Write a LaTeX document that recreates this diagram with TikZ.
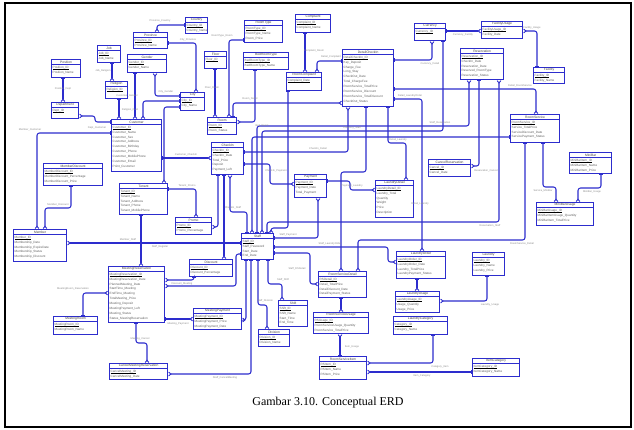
\documentclass[tikz,border=0pt]{standalone}
\usepackage{fontspec}
\setmainfont{Liberation Sans}
\newfontfamily\capfont{Liberation Serif}
\usetikzlibrary{arrows.meta,calc}
\definecolor{erd}{RGB}{45,45,205}
\tikzset{
  entbox/.style={draw=erd, line width=1.2pt, fill=white, inner sep=0pt, rectangle},
  enttitle/.style={inner sep=0pt, font=\fontsize{3.3}{3.8}\selectfont, text=black!75},
  entsep/.style={draw=erd, line width=0.8pt},
  attr/.style={anchor=north west, inner sep=0pt, font=\fontsize{3.1}{3.6}\selectfont, text=black!62, text height=2.4pt, text depth=0.6pt},
  keyline/.style={draw=black, line width=0.9pt},
  rel/.style={draw=erd, line width=1.05pt, rounded corners=2.5pt,
    arrows={Bar[width=3.8pt,line width=0.9pt]-Straight Barb[reversed,length=2.3pt,width=3.8pt,line width=0.9pt]}},
  relthick/.style={rel, line width=1.9pt},
  lbl/.style={inner sep=0pt, font=\fontsize{2.6}{3}\selectfont, text=black!45},
}
\newcommand{\ent}[7]{%
  \node[entbox, minimum width=#4pt, minimum height=#5pt, anchor=north west] (#1) at (#2,#3) {};
  \node[enttitle] (#1-t) at ([yshift=-2.9pt]#1.north) {#6};
  \draw[entsep] ([yshift=-5.6pt]#1.north west) -- ([yshift=-5.6pt]#1.north east);
  \foreach \r [count=\i] in {#7} {
    \node[attr] (#1-\i) at ([xshift=1.5pt,yshift={-6.6pt-(\i-1)*4.9pt}]#1.north west) {\r};
  }
  \draw[keyline] (#1-1.south west) -- (#1-1.south east);
}
\newcommand{\lbl}[4]{\node[lbl] (#1) at (#2,#3) {#4};}

\begin{document}
\begin{tikzpicture}[x=1pt,y=-1pt]
\useasboundingbox (0,0) rectangle (634,429);
\fill[white] (0,0) rectangle (634,429);

% ---------------- entities ----------------
\ent{country}{185}{17}{22}{16}{Country}{Country\_ID,Country\_Name}
\ent{province}{133}{32}{34}{16}{Province}{Province\_ID,Province\_Name}
\ent{job}{97}{45}{23}{17}{Job}{Job\_ID,Job\_Name}
\ent{gender}{127}{54}{39}{18}{Gender}{Gender\_ID,Gender\_Name}
\ent{position}{51}{59}{29}{18}{Position}{Position\_ID,Position\_Name}
\ent{religion}{105}{81}{22}{17}{Religion}{Religion\_ID}
\ent{department}{51}{102}{27}{16}{Department}{Dept\_ID}
\ent{city}{180}{92}{24}{18}{City}{City\_ID,City\_Name}
\ent{customer}{111}{119}{50}{52}{Customer}{Customer\_ID,Customer\_Name,Customer\_Sex,Customer\_Address,Customer\_Birthday,Customer\_Phone,Customer\_MobilePhone,Customer\_Email,Point\_Customer}
\ent{roomtype}{244}{20}{38}{22}{RoomType}{RoomType\_ID,RoomType\_Name,Room\_Price}
\ent{complaint}{295}{14}{35}{18}{Complaint}{Complaint\_ID,Complaint\_Name}
\ent{floor}{204}{51}{22}{17}{Floor}{Floor\_ID}
\ent{bedroomtype}{243}{52}{45}{17}{BedRoomType}{BedRoomType\_ID,BedRoomType\_Name}
\ent{roomcomplaint}{286}{72}{35}{18}{RoomComplaint}{Complaint\_Date}
\ent{detailcheckin}{342}{49}{51}{57}{DetailCheckIn}{DetailCheckIn\_ID,Key\_Deposit,Charge\_Fee,Long\_Stay,CheckOut\_Date,Total\_ChargeFee,RoomService\_TotalPrice,RoomService\_Discount,RoomService\_TotalDiscount,CheckOut\_Status}
\ent{room}{207}{117}{29}{17}{Room}{Room\_ID,Room\_Status}
\ent{checkin}{211}{142}{32}{32}{CheckIn}{CheckIn\_ID,CheckIn\_Date,Total\_Price,Deposit,Payment\_Left}
\ent{currency}{414}{23}{31}{17}{Currency}{Currency\_ID}
\ent{facilityusage}{481}{21}{41}{17}{FacilityUsage}{FacilityUsage\_ID,Facility\_Date}
\ent{reservation}{460}{48}{43}{31}{Reservation}{Reservation\_ID,CheckIn\_Date,Reservation\_Date,Reserved\_RoomType,Reservation\_Status}
\ent{facility}{533}{67}{31}{16}{Facility}{Facility\_ID,Facility\_Name}
\ent{roomservice}{510}{114}{49}{28}{RoomService}{RoomService\_ID,Service\_TotalPrice,ServiceDiscount\_Date,ServicePayment\_Status}
\ent{memberdiscount}{43}{163}{59}{22}{MemberDiscount}{MemberDiscount\_ID,MemberDiscount\_Percentage,MemberDiscount\_Price}
\ent{tenant}{119}{183}{48}{31}{Tenant}{Tenant\_ID,Tenant\_Name,Tenant\_Address,Tenant\_Phone,Tenant\_MobilePhone}
\ent{member}{13}{229}{53}{32}{Member}{Member\_ID,Membership\_Date,Membership\_ExpireDate,Membership\_Status,Membership\_Discount}
\ent{promo}{175}{217}{36}{17}{Promo}{Promo\_ID,Promo\_Percentage}
\ent{discount}{189}{259}{43}{17}{Discount}{Discount\_ID,Discount\_Percentage}
\ent{meetingres}{108}{266}{56}{56}{MeetingReservation}{MeetingReservation\_ID,MeetingReservation\_Date,PlannedMeeting\_Date,StartTime\_Meeting,EndTime\_Meeting,TotalMeeting\_Price,Meeting\_Deposit,MeetingPayment\_Left,Meeting\_Status,Status\_MeetingReservation}
\ent{payment}{294}{174}{32}{23}{Payment}{Payment\_ID,Payment\_Date,Total\_Payment}
\ent{laundrydetail}{375}{180}{38}{37}{LaundryDetail}{LaundryDetail\_ID,Laundry\_Total,Quantity,Weight,Price,Description}
\ent{staff}{241}{233}{32}{26}{Staff}{Staff\_ID,Staff\_Password,Start\_Date,End\_Date}
\ent{rsdetail}{318}{271}{48}{26}{RoomServiceDetail}{RSDetail\_ID,Detail\_TotalPrice,DetailDiscount\_Date,DetailPayment\_Status}
\ent{laundryorder}{396}{251}{49}{27}{LaundryOrder}{LaundryOrder\_ID,LaundryOrder\_Date,Laundry\_TotalPrice,LaundryPayment\_Status}
\ent{cancelres}{428}{159}{42}{17}{CancelReservation}{Cancel\_ID,Cancel\_Date}
\ent{minibar}{569}{152}{42}{21}{MiniBar}{MiniBarItem\_ID,MiniBarItem\_Name,MiniBarItem\_Price}
\ent{minibarusage}{536}{202}{57}{23}{MiniBarUsage}{MiniBarUsage\_ID,MiniBarItemUsage\_Quantity,MiniBarItem\_TotalPrice}
\ent{laundry}{472}{252}{32}{23}{Laundry}{Laundry\_ID,Laundry\_Name,Laundry\_Price}
\ent{meetingroom}{53}{316}{44}{18}{MeetingRoom}{MeetingRoom\_ID,MeetingRoom\_Name}
\ent{meetingpayment}{193}{308}{48}{21}{MeetingPayment}{MeetingPayment\_ID,MeetingPayment\_Price,MeetingPayment\_Date}
\ent{cancelmeeting}{109}{363}{58}{16}{CancelMeetingReservation}{CancelMeeting\_ID,CancelMeeting\_Date}
\ent{division}{258}{329}{31}{17}{Division}{Division\_ID,Division\_Name}
\ent{shift}{278}{300}{29}{26}{Shift}{Shift\_ID,Shift\_Name,Start\_Time,End\_Time}
\ent{rsusage}{313}{312}{55}{21}{RoomServiceUsage}{RSUsage\_ID,RoomServiceUsage\_Quantity,RoomService\_TotalPrice}
\ent{rsitem}{319}{356}{47}{23}{RoomServiceItem}{RSItem\_ID,RSItem\_Name,RSItem\_Price}
\ent{laundryusage}{395}{291}{44}{21}{LaundryUsage}{LaundryUsage\_ID,Usage\_Quantity,Usage\_Price}
\ent{laundrycat}{393}{316}{54}{18}{LaundryCategory}{Category\_ID,Category\_Name}
\ent{itemcat}{472}{358}{47}{18}{ItemCategory}{ItemCategory\_ID,ItemCategory\_Name}

% ---------------- connectors ----------------
\draw[rel] (country.west |- 0,25) -| (province.north -| 157,0);
\draw[rel] (province.east |- 0,43) -| (city.north -| 196,0);
\draw[rel] (gender.south -| 135,0) -- (customer.north -| 135,0);
\draw[rel] (city.west |- 0,96) -| (gender.south -| 155,0);
\draw[rel] (city.west |- 0,101) -| (customer.north -| 143,0);
\draw[rel] (job.south -| 112,0) -- (religion.north -| 112,0);
\draw[rel] (religion.south -| 119,0) -- (customer.north -| 119,0);
\draw[rel] (position.south -| 63,0) -- (department.north -| 63,0);
\draw[rel] (customer.west |- 0,122) -- (95,122) |- (department.east |- 0,116);
\draw[rel] (customer.west |- 0,133) -| (member.north -| 37,0);
\draw[rel] (memberdiscount.south -| 71,0) |- (45,208) -- (member.north -| 45,0);
\draw[rel] (city.west |- 0,107) -| (tenant.north -| 164,0);
\draw[rel] (customer.east |- 0,158) -- (checkin.west |- 0,158);
\draw[rel] (tenant.south -| 141,0) -- (meetingres.north -| 141,0);
\draw[rel] (staff.west |- 0,243) -- (member.east |- 0,243);
\draw[rel] (tenant.east |- 0,189) -| (promo.north -| 196,0);
\draw[rel] (checkin.south -| 218,0) |- (promo.east |- 0,227);
\draw[rel] (checkin.south -| 224,0) -- (discount.north -| 224,0);
\draw[rel] (staff.north -| 247,0) |- (230,212) -- (checkin.south -| 230,0);
\draw[rel] (staff.east |- 0,238) -| (payment.south -| 318,0);
\draw[rel] (checkin.east |- 0,164) -- (270,164) |- (payment.west |- 0,184);
\draw[rel] (checkin.east |- 0,152) -| (detailcheckin.south -| 348,0);
\draw[rel] (detailcheckin.south -| 366,0) |- (341,172) -- (rsdetail.north -| 341,0);
\draw[rel] (detailcheckin.south -| 388,0) |- (406,143) -- (laundrydetail.north -| 406,0);
\draw[rel] (payment.east |- 0,181) -- (350,181) |- (laundrydetail.west |- 0,190);
\draw[rel] (reservation.south -| 479,0) |- (cancelres.east |- 0,166);
\draw[rel] (staff.north -| 267,0) |- (499,222) -- (reservation.south -| 499,0);
\draw[rel] (staff.north -| 257,0) |- (469,126) -- (reservation.south -| 469,0);
\draw[rel] (detailcheckin.east |- 0,60) -| (currency.south -| 432,0);
\draw[rel] (currency.south -| 443,0) |- (262,131) -- (staff.north -| 262,0);
\draw[rel] (roomservice.west |- 0,137) -| (staff.north -| 252,0);
\draw[rel] (currency.east |- 0,31) -- (facilityusage.west |- 0,31);
\draw[rel] (facility.north -| 537,0) |- (facilityusage.east |- 0,31);
\draw[rel] (detailcheckin.east |- 0,89) -| (roomservice.north -| 536,0);
\draw[rel] (detailcheckin.east |- 0,99) -| (laundryorder.north -| 422,0);
\draw[rel] (roomservice.south -| 525,0) |- (358,240) -- (rsdetail.north -| 358,0);
\draw[rel] (roomservice.south -| 543,0) |- (556,187) -- (minibarusage.north -| 556,0);
\draw[rel] (minibar.south -| 601,0) |- (578,188) -- (minibarusage.north -| 578,0);
\draw[relthick] (laundryorder.south -| 417,0) -- (laundryusage.north -| 417,0);
\draw[rel] (laundry.south -| 487,0) |- (laundryusage.east |- 0,301);
\draw[rel] (laundrycat.south -| 433,0) |- (rsitem.east |- 0,363);
\draw[rel] (itemcat.west |- 0,372) -- (rsitem.east |- 0,372);
\draw[relthick] (rsdetail.south -| 341,0) -- (rsusage.north -| 341,0);
\draw[rel] (rsitem.north -| 340,0) -- (rsusage.south -| 340,0);
\draw[rel] (staff.east |- 0,247) -- (388,247) |- (laundryorder.west |- 0,262);
\draw[rel] (staff.east |- 0,253) -- (310,253) |- (rsdetail.west |- 0,284);
\draw[rel] (staff.south -| 268,0) |- (282,284) -- (shift.north -| 282,0);
\draw[rel] (staff.south -| 258,0) |- (267,305) -- (division.north -| 267,0);
\draw[rel] (staff.south -| 251,0) |- (cancelmeeting.east |- 0,374);
\draw[rel] (staff.south -| 246,0) |- (meetingpayment.east |- 0,320);
\draw[rel] (meetingres.east |- 0,319) -- (meetingpayment.west |- 0,319);
\draw[rel] (meetingroom.north -| 83,0) |- (meetingres.west |- 0,293);
\draw[rel] (meetingres.south -| 136,0) |- (147,343) -- (cancelmeeting.north -| 147,0);
\draw[rel] (discount.south -| 194,0) |- (meetingres.east |- 0,280);
\draw[rel] (staff.west |- 0,254) -- (236,254) |- (meetingres.east |- 0,286);
\draw[rel] (floor.south -| 215,0) -- (room.north -| 215,0);
\draw[rel] (roomtype.west |- 0,40) -| (room.north -| 229,0);
\draw[rel] (bedroomtype.south -| 255,0) |- (room.east |- 0,122);
\draw[rel] (complaint.south -| 305,0) -- (roomcomplaint.north -| 305,0);
\draw[rel] (detailcheckin.west |- 0,61) -| (roomcomplaint.north -| 317,0);
\draw[rel] (room.north -| 233,0) |- (detailcheckin.west |- 0,103);
\draw[rel] (roomcomplaint.south -| 288,0) |- (271,228) -- (staff.north -| 271,0);

% ---------------- relationship labels ----------------
\lbl{l1}{160}{21}{Province\_Country}
\lbl{l2}{188}{40}{City\_Province}
\lbl{l3}{127}{96}{Customer\_Gender}
\lbl{l4}{166}{92}{City\_Gender}
\lbl{l5}{103}{71}{Job\_Religion}
\lbl{l6}{130}{110}{Religion\_Cust}
\lbl{l7}{63}{89}{Position\_Dept}
\lbl{l8}{97}{128}{Dept\_Customer}
\lbl{l9}{30}{130}{Member\_Customer}
\lbl{l10}{58}{205}{Member\_Discount}
\lbl{l11}{186}{155}{Customer\_CheckIn}
\lbl{l12}{187}{186}{Tenant\_Promo}
\lbl{l13}{128}{240}{Member\_Staff}
\lbl{l14}{160}{247}{Staff\_Register}
\lbl{l15}{233}{208}{CheckIn\_Staff}
\lbl{l16}{276}{171}{CheckIn\_Payment}
\lbl{l17}{288}{235}{Staff\_Payment}
\lbl{l18}{318}{149}{CheckIn\_Detail}
\lbl{l19}{352}{186}{Payment\_Laundry}
\lbl{l20}{398}{140}{Detail\_Laundry}
\lbl{l21}{486}{171}{Reservation\_Cancel}
\lbl{l22}{490}{226}{Reservation\_Staff}
\lbl{l23}{440}{123}{Staff\_Reservation}
\lbl{l24}{430}{64}{Currency\_Detail}
\lbl{l25}{352}{128}{Currency\_Staff}
\lbl{l26}{463}{35}{Currency\_Facility}
\lbl{l27}{532}{28}{Facility\_Usage}
\lbl{l28}{520}{86}{Detail\_RoomService}
\lbl{l29}{410}{96}{Detail\_LaundryOrder}
\lbl{l30}{522}{244}{RoomService\_Detail}
\lbl{l31}{543}{191}{Service\_MiniBar}
\lbl{l32}{592}{192}{MiniBar\_Usage}
\lbl{l33}{490}{305}{Laundry\_Usage}
\lbl{l34}{440}{367}{Category\_Item}
\lbl{l35}{422}{376}{Item\_Category}
\lbl{l36}{352}{347}{Item\_Usage}
\lbl{l37}{73}{289}{MeetingRoom\_Reservation}
\lbl{l38}{140}{339}{Meeting\_Cancel}
\lbl{l39}{178}{324}{Meeting\_Payment}
\lbl{l40}{182}{284}{Discount\_Meeting}
\lbl{l41}{225}{378}{Staff\_CancelMeeting}
\lbl{l42}{265}{301}{Staff\_Division}
\lbl{l43}{283}{280}{Staff\_Shift}
\lbl{l44}{297}{269}{Staff\_RSDetail}
\lbl{l45}{330}{244}{Staff\_LaundryOrder}
\lbl{l46}{250}{99}{Room\_Detail}
\lbl{l47}{222}{36}{RoomType\_Room}
\lbl{l48}{262}{126}{Bed\_Room}
\lbl{l49}{314}{51}{Complaint\_Room}
\lbl{l50}{331}{57}{Detail\_Complaint}
\lbl{l51}{212}{88}{Floor\_Room}
\lbl{l52}{420}{204}{Detail\_Laundry}

% ---------------- frame and caption ----------------
\draw[line width=1.5pt] (5,3) rectangle (631,427);
\node[font=\capfont\fontsize{12}{14}\selectfont] (caption) at (328,403) {Gambar 3.10. Conceptual ERD};
\end{tikzpicture}
\end{document}
